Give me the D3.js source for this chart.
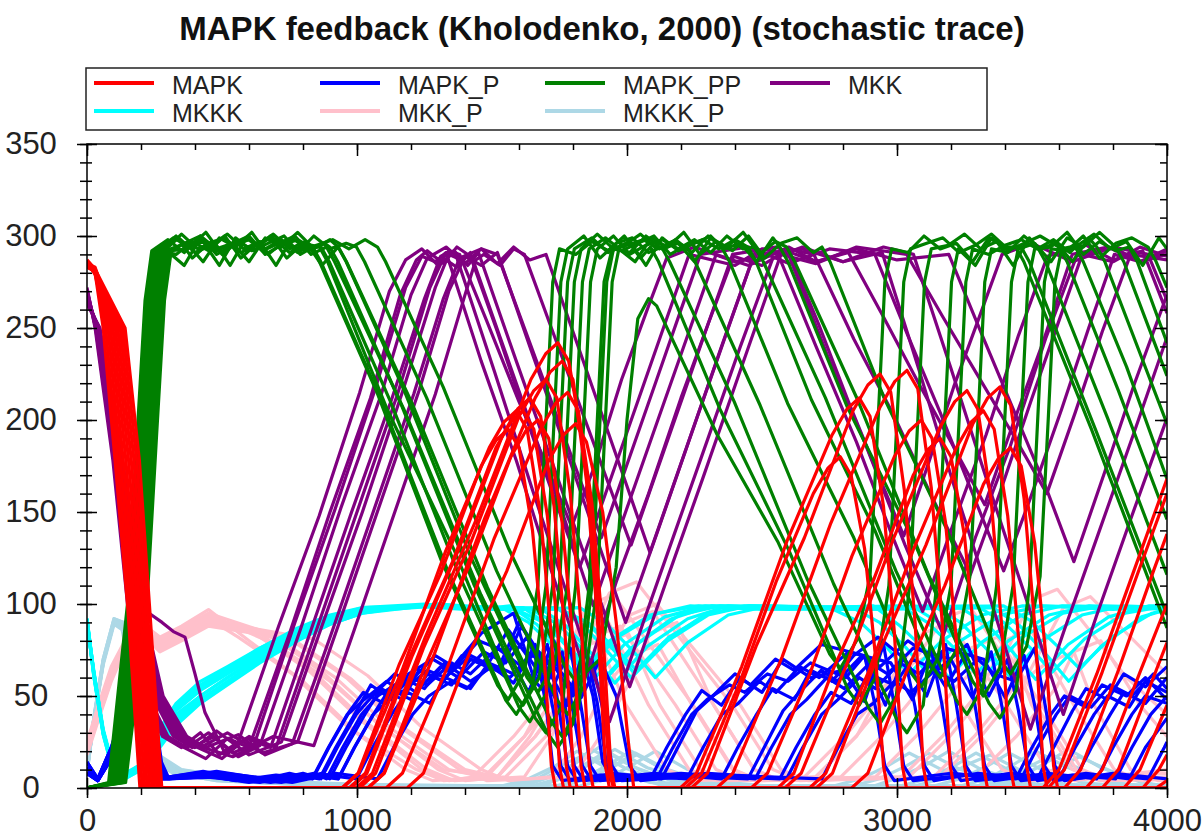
<!DOCTYPE html>
<html>
<head>
<meta charset="utf-8">
<script src="https://cdn.jsdelivr.net/npm/d3@7"></script>
<style>
body { margin: 0; background: #fff; }
</style>
</head>
<body>
<div id="chart"></div>
<script>
// values, one array per run: [time, molecules]
var mapkRuns = [
  [[0,285],[30,280],[60,250],[104,178],[150,100],[196,0],[944,0],[1004,8],[1156,67],[1308,116],[1460,175],[1515,189],[1560,195],[1600,185],[1650,140],[1690,78],[1720,12],[1735,0],[2197,0],[2257,8],[2425,66],[2592,134],[2760,192],[2815,206],[2860,212],[2900,202],[2950,153],[2990,85],[3020,12],[3035,0],[3540,0],[3600,10],[3740,62],[3870,115],[4000,168]],
  [[0,284],[30,281],[69,250],[114,178],[159,100],[205,0],[946,0],[1006,8],[1167,64],[1329,129],[1490,185],[1545,199],[1590,205],[1630,195],[1680,148],[1720,82],[1750,12],[1765,0],[2238,0],[2298,8],[2478,77],[2657,136],[2837,205],[2892,219],[2937,225],[2977,215],[3027,162],[3067,90],[3097,12],[3112,0],[3620,0],[3680,10],[3820,64],[3950,118],[4000,138]],
  [[0,286],[30,279],[78,250],[124,178],[168,100],[214,0],[971,0],[1031,8],[1192,70],[1354,123],[1515,185],[1570,199],[1615,205],[1655,195],[1705,148],[1745,82],[1775,12],[1790,0],[2332,0],[2392,8],[2574,71],[2755,144],[2937,207],[2992,221],[3037,227],[3077,217],[3127,163],[3167,91],[3197,12],[3212,0],[3700,0],[3760,10],[3900,63],[4000,100]],
  [[0,283],[30,281],[87,250],[134,178],[177,100],[223,0],[977,0],[1037,8],[1205,72],[1372,128],[1540,192],[1595,206],[1640,212],[1680,202],[1730,153],[1770,85],[1800,12],[1815,0],[2460,0],[2520,8],[2677,62],[2833,126],[2990,180],[3045,194],[3090,200],[3130,190],[3180,144],[3220,80],[3250,12],[3265,0],[3760,0],[3820,10],[3960,64],[4000,79]],
  [[0,287],[30,282],[96,250],[144,178],[186,100],[232,0],[1040,0],[1100,8],[1257,68],[1413,120],[1570,180],[1625,194],[1670,200],[1710,190],[1760,144],[1800,80],[1830,12],[1845,0],[2558,0],[2618,8],[2765,65],[2913,113],[3060,170],[3115,184],[3160,190],[3200,180],[3250,137],[3290,76],[3320,12],[3335,0],[3840,0],[3900,10],[4000,45]],
  [[0,285],[30,283],[105,250],[154,178],[195,100],[241,0],[1009,0],[1069,8],[1246,76],[1423,134],[1600,202],[1655,216],[1700,222],[1740,212],[1790,160],[1830,89],[1860,12],[1875,0],[2585,0],[2645,8],[2816,68],[2988,136],[3159,196],[3214,210],[3259,216],[3299,206],[3349,156],[3389,86],[3419,12],[3434,0],[3910,0],[3970,10],[4000,18]],
  [[0,284],[30,280],[114,250],[164,178],[204,100],[250,0],[997,0],[1057,8],[1253,82],[1448,148],[1644,222],[1699,236],[1744,242],[1784,232],[1834,190],[1874,140],[1910,60],[1935,8],[1950,0],[2676,0],[2736,8],[2897,64],[3059,129],[3220,185],[3275,199],[3320,205],[3360,195],[3410,148],[3450,82],[3480,12],[3495,0],[3960,0],[4000,4]],
  [[0,286],[30,282],[123,250],[174,178],[213,100],[259,0],[1041,0],[1101,8],[1287,73],[1474,147],[1660,212],[1715,226],[1760,232],[1800,222],[1850,167],[1890,93],[1920,12],[1935,0],[2701,0],[2761,8],[2934,74],[3107,132],[3281,198],[3336,212],[3381,218],[3421,208],[3471,157],[3511,87],[3541,12],[3556,0],[4000,0]],
  [[0,283],[30,281],[132,250],[184,178],[222,100],[268,0],[1108,0],[1168,8],[1339,67],[1509,136],[1680,195],[1735,209],[1780,215],[1820,205],[1870,155],[1910,86],[1940,12],[1955,0],[2832,0],[2892,8],[3035,63],[3177,110],[3320,165],[3375,179],[3420,185],[3460,175],[3510,133],[3550,74],[3580,12],[3595,0],[4000,0]],
  [[0,285],[30,282],[141,250],[194,178],[231,100],[277,0],[1186,0],[1246,8],[1401,68],[1555,118],[1710,178],[1765,192],[1810,198],[1850,188],[1910,150],[1960,90],[2005,25],[2025,0],[2216,0],[2276,8],[2414,56],[2552,112],[2690,160],[2745,174],[2790,180],[2830,170],[2880,130],[2920,72],[2950,12],[2965,0],[3560,0],[3620,10],[3760,63],[3890,116],[4000,160]]
];

var mapkPRuns = [
  [[0,8],[40,4],[90,16],[130,45],[165,70],[195,50],[222,14],[250,5],[400,8],[550,4],[700,7],[834,5],[894,22],[964,40],[1024,52],[1100,46],[1164,60],[1250,54],[1324,68],[1420,58],[1500,66],[1580,57],[1660,78],[1700,45],[1725,12],[1760,4],[1900,7],[2087,5],[2147,22],[2217,40],[2277,53],[2350,45],[2417,60],[2500,52],[2577,70],[2680,60],[2800,64],[2880,47],[2950,78],[2990,45],[3025,12],[3060,4],[3250,7],[3440,5],[3500,22],[3570,40],[3620,50],[3700,44],[3760,56],[3850,50],[3920,60],[4000,48]],
  [[0,11],[40,4],[90,19],[133,45],[169,75],[200,50],[228,14],[256,5],[420,7],[600,3],[750,8],[836,5],[896,22],[966,40],[1026,48],[1110,58],[1166,52],[1260,64],[1326,60],[1420,72],[1530,64],[1610,88],[1690,70],[1730,40],[1755,12],[1790,4],[1950,8],[2128,5],[2188,22],[2258,42],[2318,50],[2400,62],[2458,56],[2550,70],[2618,64],[2720,78],[2877,72],[2957,45],[3027,72],[3067,44],[3102,12],[3137,4],[3300,8],[3520,5],[3580,22],[3650,42],[3700,54],[3780,48],[3840,62],[3920,55],[4000,66]],
  [[0,14],[40,5],[90,22],[136,45],[173,80],[205,50],[234,14],[262,5],[430,9],[620,4],[780,7],[861,5],[921,22],[991,40],[1051,56],[1130,48],[1191,62],[1280,70],[1351,64],[1450,80],[1555,74],[1635,52],[1705,78],[1745,46],[1780,12],[1815,4],[2000,7],[2222,5],[2282,22],[2352,40],[2412,46],[2490,58],[2552,52],[2640,66],[2712,60],[2820,74],[2977,68],[3057,48],[3127,75],[3167,45],[3202,12],[3237,4],[3420,8],[3600,5],[3660,22],[3730,40],[3780,50],[3860,44],[3920,58],[4000,52]],
  [[0,8],[40,4],[90,16],[139,45],[177,85],[210,50],[240,14],[268,5],[440,6],[640,3],[800,8],[867,5],[927,22],[997,40],[1057,50],[1140,62],[1197,58],[1290,72],[1357,66],[1460,84],[1580,95],[1660,57],[1730,80],[1770,45],[1805,12],[1840,4],[2100,8],[2350,5],[2410,22],[2480,40],[2540,54],[2620,48],[2680,64],[2760,58],[2840,72],[2930,82],[3030,70],[3110,50],[3180,78],[3220,45],[3255,12],[3290,4],[3500,7],[3660,5],[3720,22],[3790,40],[3840,52],[3920,46],[4000,60]],
  [[0,11],[40,4],[90,19],[142,45],[181,70],[215,50],[246,14],[274,5],[460,8],[660,4],[820,7],[930,5],[990,22],[1060,40],[1120,48],[1200,60],[1260,56],[1350,68],[1420,62],[1520,76],[1610,66],[1690,53],[1760,74],[1800,42],[1835,12],[1870,4],[2150,7],[2448,5],[2508,22],[2578,42],[2638,52],[2720,64],[2778,58],[2870,72],[2938,66],[3040,80],[3100,74],[3180,55],[3250,72],[3290,44],[3325,12],[3360,4],[3560,8],[3740,5],[3800,22],[3870,40],[3920,50],[4000,46]],
  [[0,14],[40,5],[90,22],[145,45],[185,75],[220,50],[252,14],[280,5],[470,7],[680,3],[840,8],[899,5],[959,22],[1029,40],[1089,54],[1170,48],[1229,64],[1320,58],[1389,72],[1480,66],[1560,86],[1640,70],[1720,53],[1790,76],[1830,44],[1865,12],[1900,4],[2200,8],[2475,5],[2535,22],[2605,40],[2665,48],[2740,60],[2805,54],[2900,68],[2965,62],[3060,76],[3199,70],[3279,49],[3349,74],[3389,44],[3424,12],[3459,4],[3650,7],[3810,5],[3870,22],[3940,40],[4000,50]],
  [[0,8],[40,4],[90,16],[148,45],[189,80],[225,50],[258,14],[286,5],[480,9],[700,4],[850,7],[887,5],[947,22],[1017,40],[1077,50],[1160,58],[1217,52],[1310,66],[1377,60],[1470,74],[1550,68],[1630,82],[1684,62],[1764,41],[1834,72],[1874,50],[1910,14],[1950,4],[2250,7],[2566,5],[2626,22],[2696,40],[2756,52],[2830,46],[2896,62],[2990,56],[3056,70],[3150,64],[3260,78],[3340,50],[3410,70],[3450,42],[3485,12],[3520,4],[3700,8],[3860,5],[3920,22],[4000,38]],
  [[0,11],[40,4],[90,19],[151,45],[193,85],[230,50],[264,14],[292,5],[500,6],[720,3],[870,8],[931,5],[991,22],[1061,40],[1121,54],[1200,48],[1261,62],[1350,56],[1421,70],[1520,64],[1600,90],[1700,66],[1780,45],[1850,74],[1890,46],[1925,12],[1960,4],[2300,8],[2591,5],[2651,22],[2721,40],[2781,48],[2860,60],[2921,54],[3010,68],[3081,62],[3180,76],[3321,70],[3401,49],[3471,72],[3511,44],[3546,12],[3581,4],[3780,7],[3930,5],[3990,22],[4000,25]],
  [[0,14],[40,5],[90,22],[154,45],[197,70],[235,50],[270,14],[298,5],[510,8],[740,4],[890,7],[998,5],[1058,22],[1128,40],[1188,52],[1270,46],[1328,60],[1420,54],[1488,68],[1580,62],[1660,76],[1740,64],[1800,50],[1870,70],[1910,43],[1945,12],[1980,4],[2350,7],[2722,5],[2782,22],[2852,40],[2912,46],[2990,58],[3052,52],[3140,64],[3212,58],[3300,70],[3360,62],[3440,58],[3510,76],[3550,44],[3585,12],[3620,4],[3800,8],[4000,5]],
  [[0,8],[40,4],[90,16],[157,45],[201,75],[240,50],[276,14],[304,5],[520,7],[760,3],[920,8],[1076,5],[1136,22],[1206,40],[1266,50],[1350,58],[1406,54],[1490,66],[1566,60],[1650,72],[1750,64],[1830,49],[1900,70],[1960,50],[2010,12],[2050,4],[2110,5],[2170,22],[2240,40],[2296,48],[2380,56],[2436,52],[2520,62],[2596,58],[2680,68],[2810,60],[2880,72],[2920,44],[2955,12],[2990,4],[3200,8],[3460,5],[3520,22],[3590,40],[3640,50],[3720,44],[3790,56],[3870,50],[3950,62],[4000,54]]
];

var mapkPPRuns = [
  [[0,0],[80,3],[150,100],[185,190],[215,265],[240,292],[300,298],[360,291],[420,300],[480,293],[540,296],[600,286],[660,299],[720,294],[780,302],[834,294],[864,285],[1074,215],[1314,123],[1520,56],[1560,48],[1620,63],[1670,110],[1700,200],[1725,275],[1750,293],[1810,290],[1870,297],[1930,292],[1990,300],[2050,288],[2087,294],[2117,286],[2344,206],[2600,129],[2820,53],[2860,45],[2920,60],[2970,110],[3000,200],[3025,275],[3050,293],[3110,296],[3170,299],[3230,291],[3290,295],[3350,301],[3410,293],[3440,294],[3470,286],[3720,195],[4000,87]],
  [[0,0],[87,3],[158,100],[193,190],[223,265],[248,292],[310,293],[370,296],[430,286],[490,299],[550,294],[610,302],[670,290],[730,297],[790,292],[836,294],[866,286],[1086,212],[1336,118],[1550,48],[1590,40],[1650,55],[1700,110],[1730,200],[1755,275],[1780,293],[1840,300],[1900,288],[1960,296],[2020,299],[2080,291],[2128,294],[2158,286],[2397,210],[2666,114],[2897,43],[2937,35],[2997,50],[3047,110],[3077,200],[3102,275],[3127,293],[3190,295],[3250,301],[3310,293],[3370,297],[3430,284],[3490,299],[3520,294],[3550,286],[3780,201],[4000,116]],
  [[0,0],[94,3],[166,100],[201,190],[231,265],[256,292],[320,299],[380,294],[440,302],[500,290],[560,297],[620,292],[680,300],[740,288],[800,296],[861,294],[891,286],[1111,206],[1361,129],[1575,53],[1615,45],[1675,60],[1725,110],[1755,200],[1780,275],[1805,293],[1870,299],[1930,291],[1990,295],[2050,301],[2110,293],[2170,297],[2222,294],[2252,286],[2493,208],[2765,111],[2997,38],[3037,30],[3097,45],[3147,110],[3177,200],[3202,275],[3227,293],[3290,284],[3350,299],[3410,292],[3470,296],[3530,300],[3600,294],[3630,286],[3820,216],[4000,146]],
  [[0,0],[101,3],[174,100],[209,190],[239,265],[264,292],[330,290],[390,297],[450,292],[510,300],[570,288],[630,296],[690,299],[750,291],[810,295],[867,294],[897,286],[1124,210],[1380,115],[1600,44],[1640,36],[1700,51],[1750,110],[1780,200],[1805,275],[1830,293],[1890,301],[1950,293],[2010,297],[2070,284],[2130,299],[2190,292],[2250,296],[2310,300],[2350,294],[2380,286],[2595,209],[2840,136],[3050,63],[3090,55],[3150,70],[3200,110],[3230,200],[3255,275],[3280,293],[3340,290],[3400,295],[3460,298],[3520,293],[3580,298],[3640,291],[3660,294],[3690,286],[3850,229],[4000,168]],
  [[0,0],[108,3],[182,100],[217,190],[247,265],[272,292],[330,300],[390,288],[450,296],[510,299],[570,291],[630,295],[690,301],[750,293],[810,297],[870,284],[930,294],[960,286],[1175,216],[1420,126],[1630,60],[1670,52],[1730,67],[1780,110],[1810,200],[1835,275],[1860,293],[1920,299],[1980,292],[2040,296],[2100,300],[2160,290],[2220,295],[2280,298],[2340,293],[2400,298],[2448,294],[2478,286],[2683,211],[2918,140],[3120,68],[3160,60],[3220,75],[3270,115],[3300,200],[3325,275],[3350,293],[3410,291],[3470,300],[3530,293],[3590,296],[3650,286],[3710,299],[3740,294],[3770,286],[4000,198]],
  [[0,0],[115,3],[190,100],[225,190],[255,265],[280,292],[340,299],[400,291],[460,295],[520,301],[580,293],[640,297],[700,284],[760,299],[820,292],[880,296],[899,294],[929,286],[1165,208],[1432,111],[1660,38],[1700,30],[1760,45],[1810,110],[1840,200],[1865,275],[1890,293],[1950,300],[2010,290],[2070,295],[2130,298],[2190,293],[2250,298],[2310,291],[2370,300],[2430,293],[2475,294],[2505,286],[2735,212],[2996,118],[3219,48],[3259,40],[3319,55],[3369,110],[3399,200],[3424,275],[3449,293],[3510,296],[3570,286],[3630,299],[3690,294],[3750,302],[3810,294],[3840,286],[4000,224]],
  [[0,0],[122,3],[198,100],[233,190],[263,265],[288,292],[350,301],[410,293],[470,297],[530,284],[590,299],[650,292],[710,296],[770,300],[830,290],[887,294],[917,286],[1173,206],[1459,105],[1704,30],[1744,22],[1800,35],[1860,110],[1890,200],[1915,275],[1945,293],[2000,295],[2060,298],[2120,293],[2180,298],[2240,291],[2300,300],[2360,293],[2420,296],[2480,286],[2540,299],[2566,294],[2596,286],[2816,207],[3066,133],[3280,58],[3320,50],[3380,65],[3430,110],[3460,200],[3485,275],[3510,293],[3570,294],[3630,302],[3690,290],[3750,297],[3810,292],[3860,294],[3890,286],[4000,242]],
  [[0,0],[129,3],[206,100],[241,190],[271,265],[296,292],[360,284],[420,299],[480,292],[540,296],[600,300],[660,290],[720,295],[780,298],[840,293],[900,298],[931,294],[961,286],[1207,208],[1483,109],[1720,36],[1760,28],[1820,43],[1870,110],[1900,200],[1925,275],[1950,293],[2010,291],[2070,300],[2130,293],[2190,296],[2250,286],[2310,299],[2370,294],[2430,302],[2490,290],[2550,297],[2591,294],[2621,286],[2854,211],[3116,116],[3341,46],[3381,38],[3441,53],[3491,110],[3521,200],[3546,275],[3571,293],[3630,292],[3690,300],[3750,288],[3810,296],[3870,299],[3930,294],[3960,286],[4000,272]],
  [[0,0],[136,3],[214,100],[249,190],[279,265],[304,292],[360,296],[420,300],[480,290],[540,295],[600,298],[660,293],[720,298],[780,291],[840,300],[900,293],[960,296],[998,294],[1028,286],[1258,212],[1517,118],[1740,48],[1780,40],[1840,55],[1890,110],[1920,200],[1945,275],[1970,293],[2030,286],[2090,299],[2150,294],[2210,302],[2270,290],[2330,297],[2390,292],[2450,300],[2510,288],[2570,296],[2630,299],[2690,291],[2722,294],[2752,286],[2952,212],[3183,141],[3380,70],[3420,62],[3480,77],[3530,115],[3560,200],[3585,275],[3610,293],[3670,295],[3730,301],[3790,293],[3850,297],[3910,284],[3970,299],[4000,293]],
  [[0,0],[143,3],[222,100],[257,190],[287,265],[312,292],[370,293],[430,297],[490,284],[550,299],[610,292],[670,296],[730,300],[790,290],[850,295],[910,298],[970,293],[1030,298],[1076,294],[1106,286],[1319,218],[1562,130],[1770,66],[1810,58],[1900,70],[1960,120],[2000,200],[2040,255],[2080,266],[2110,262],[2334,192],[2558,134],[2750,73],[2790,65],[2850,80],[2900,115],[2930,200],[2955,275],[2980,293],[3040,291],[3100,300],[3160,293],[3220,296],[3280,286],[3340,299],[3400,294],[3460,294],[3490,286],[3740,193],[4000,94]]
];

var mkkRuns = [
  [[0,272],[30,250],[96,178],[150,100],[210,50],[280,28],[350,22],[420,30],[490,18],[560,25],[710,88],[860,148],[1010,215],[1120,270],[1180,287],[1240,293],[1300,284],[1340,292],[1380,290],[1480,254],[1600,210],[1700,176],[1795,142],[1880,175],[1980,222],[2080,262],[2147,288],[2250,294],[2400,286],[2557,291],[2700,240],[2850,188],[2980,138],[3095,96],[3200,140],[3330,192],[3450,246],[3557,289],[3700,295],[3800,287],[3910,292],[4000,258]],
  [[0,271],[32,250],[100,178],[156,100],[218,50],[290,28],[360,22],[440,16],[520,27],[600,22],[750,84],[900,150],[1050,212],[1160,268],[1220,287],[1260,292],[1320,285],[1370,294],[1420,289],[1520,248],[1620,204],[1720,162],[1825,120],[1930,164],[2030,206],[2130,248],[2230,290],[2400,284],[2500,293],[2598,290],[2740,236],[2880,188],[3030,132],[3172,83],[3290,136],[3420,186],[3550,244],[3665,289],[3800,294],[3900,286],[4000,290]],
  [[0,270],[34,250],[104,178],[162,100],[226,50],[300,28],[370,22],[450,30],[540,19],[620,24],[770,90],[920,152],[1070,218],[1180,272],[1240,289],[1290,286],[1330,291],[1460,232],[1590,178],[1720,118],[1850,61],[1960,112],[2080,160],[2200,212],[2300,252],[2395,289],[2500,284],[2600,293],[2692,290],[2840,244],[2990,202],[3130,158],[3272,116],[3380,160],[3500,212],[3600,254],[3686,290],[3800,286],[3900,294],[4000,289]],
  [[0,270],[40,245],[110,178],[170,120],[230,95],[278,90],[320,85],[363,82],[400,62],[437,41],[511,19],[600,28],[700,22],[850,86],[1000,150],[1150,214],[1270,272],[1320,288],[1370,283],[1420,291],[1530,245],[1640,199],[1760,150],[1875,99],[1990,148],[2100,194],[2220,244],[2330,290],[2450,284],[2600,294],[2700,286],[2820,291],[2950,256],[3080,220],[3200,188],[3325,154],[3430,198],[3540,242],[3649,290],[3780,294],[3900,286],[4000,292]],
  [[0,268],[38,250],[112,178],[174,100],[242,50],[320,28],[390,22],[470,28],[560,17],[640,23],[790,86],[940,152],[1090,214],[1200,268],[1260,288],[1330,294],[1400,285],[1460,293],[1520,290],[1620,250],[1720,210],[1810,174],[1905,136],[2010,180],[2110,222],[2200,260],[2272,290],[2450,294],[2600,285],[2750,293],[2918,290],[3040,246],[3160,204],[3280,160],[3395,118],[3500,160],[3610,206],[3710,250],[3805,290],[3900,286],[4000,293]],
  [[0,267],[40,250],[116,178],[180,100],[250,50],[330,28],[400,22],[480,31],[600,18],[720,25],[870,88],[1020,150],[1170,216],[1290,272],[1340,290],[1370,288],[1510,226],[1650,162],[1790,100],[1935,36],[2060,90],[2180,140],[2300,190],[2420,240],[2540,288],[2650,294],[2800,286],[2945,291],[3080,228],[3220,160],[3360,96],[3494,32],[3620,86],[3750,140],[3880,194],[4000,245]],
  [[0,266],[42,250],[120,178],[186,100],[258,50],[340,28],[410,22],[500,16],[590,27],[680,22],[830,86],[980,150],[1130,212],[1250,266],[1310,289],[1360,292],[1410,284],[1450,291],[1590,232],[1730,174],[1870,115],[2010,55],[2140,110],[2280,168],[2420,227],[2570,290],[2700,285],[2850,294],[3036,290],[3170,256],[3300,224],[3430,192],[3555,160],[3660,204],[3760,248],[3865,290],[4000,287]],
  [[0,265],[44,250],[124,178],[192,100],[266,50],[350,28],[420,22],[520,30],[650,19],[780,25],[930,88],[1080,152],[1230,216],[1340,270],[1400,289],[1460,284],[1520,291],[1640,240],[1760,190],[1880,139],[1995,90],[2110,138],[2230,189],[2350,240],[2471,290],[2650,293],[2800,286],[2950,294],[3061,290],[3200,228],[3340,164],[3480,102],[3616,40],[3740,94],[3870,148],[4000,201]],
  [[0,264],[46,250],[128,178],[198,100],[274,50],[360,28],[430,22],[540,17],[690,28],[840,23],[990,86],[1140,150],[1290,214],[1400,268],[1440,287],[1470,290],[1530,284],[1580,293],[1620,290],[1720,250],[1820,210],[1920,170],[2015,132],[2110,172],[2210,214],[2300,252],[2391,290],[2550,294],[2700,286],[2850,293],[3000,287],[3192,290],[3310,248],[3430,206],[3550,164],[3655,123],[3770,172],[3880,220],[4000,268]],
  [[0,263],[48,250],[132,178],[204,100],[282,50],[370,28],[440,22],[560,29],[660,18],[760,24],[910,86],[1060,150],[1210,214],[1320,266],[1380,288],[1460,293],[1520,285],[1580,294],[1640,287],[1700,290],[1800,248],[1900,206],[2000,164],[2085,128],[2180,168],[2280,210],[2380,252],[2471,290],[2600,291],[2710,252],[2820,210],[2920,174],[3025,137],[3120,178],[3210,218],[3300,254],[3389,290],[3500,296],[3650,286],[3800,294],[3930,290],[4000,265]]
];

var mkkkRuns = [
  [[0,91],[25,62],[60,30],[100,8],[140,6],[190,10],[250,22],[330,40],[420,50],[520,60],[640,72],[780,84],[900,92],[1020,97],[1200,99],[1400,97],[1535,98],[1635,90],[1735,76],[1815,60],[1935,80],[2085,94],[2235,99],[2500,97],[2835,98],[2935,90],[3035,76],[3115,62],[3235,80],[3385,94],[3535,99],[3800,97],[4000,99]],
  [[0,90],[25,63],[60,31],[100,9],[140,7],[190,11],[250,26],[330,44],[420,55],[520,64],[640,75],[780,86],[900,93],[1020,98],[1250,100],[1450,97],[1565,99],[1665,89],[1765,74],[1845,64],[1965,82],[2115,95],[2265,99],[2600,97],[2912,99],[3012,88],[3112,74],[3192,60],[3312,79],[3462,94],[3612,99],[4000,98]],
  [[0,92],[25,61],[60,29],[100,7],[140,5],[190,9],[250,18],[330,34],[420,46],[520,56],[640,68],[780,80],[900,89],[1020,95],[1200,99],[1450,98],[1590,97],[1690,90],[1790,75],[1870,58],[1990,78],[2140,93],[2290,99],[2700,98],[3012,99],[3112,90],[3212,76],[3292,62],[3412,80],[3562,94],[3712,99],[4000,97]],
  [[0,91],[25,63],[60,31],[100,9],[140,7],[190,12],[250,28],[330,46],[420,58],[520,66],[640,76],[780,87],[900,94],[1020,98],[1300,99],[1500,97],[1615,98],[1715,88],[1815,72],[1895,56],[2015,76],[2165,92],[2315,99],[2700,97],[3065,98],[3165,89],[3265,74],[3345,64],[3465,82],[3615,95],[3765,99],[4000,98]],
  [[0,90],[25,62],[60,30],[100,8],[140,6],[190,10],[250,20],[330,37],[420,48],[520,58],[640,70],[780,82],[900,90],[1020,96],[1250,99],[1500,98],[1645,97],[1745,89],[1845,74],[1925,60],[2045,79],[2195,94],[2345,99],[2800,98],[3135,99],[3235,90],[3335,75],[3415,61],[3535,80],[3685,94],[3835,99],[4000,98]],
  [[0,92],[25,63],[60,31],[100,9],[140,7],[190,11],[250,24],[330,42],[420,53],[520,62],[640,73],[780,85],[900,92],[1020,97],[1300,100],[1500,97],[1675,98],[1775,88],[1875,72],[1955,57],[2075,77],[2225,92],[2375,99],[2800,97],[3234,98],[3334,89],[3434,73],[3514,59],[3634,78],[3784,93],[3934,99],[4000,99]],
  [[0,91],[25,61],[60,29],[100,7],[140,5],[190,9],[250,19],[330,36],[420,47],[520,57],[640,69],[780,81],[900,89],[1020,95],[1250,99],[1550,98],[1750,97],[1850,90],[1950,75],[2030,62],[2150,80],[2300,94],[2450,99],[2900,98],[3295,99],[3395,90],[3495,76],[3575,63],[3695,81],[3845,95],[4000,99]],
  [[0,90],[25,64],[60,32],[100,10],[140,8],[190,12],[250,27],[330,45],[420,56],[520,65],[640,76],[780,86],[900,93],[1020,97],[1300,99],[1550,97],[1735,98],[1835,89],[1935,73],[2015,60],[2135,79],[2285,94],[2435,99],[2900,97],[3356,98],[3456,88],[3556,72],[3636,58],[3756,77],[3906,93],[4000,97]],
  [[0,91],[25,62],[60,30],[100,8],[140,6],[190,10],[250,21],[330,38],[420,50],[520,60],[640,71],[780,83],[900,91],[1020,96],[1300,99],[1600,98],[1755,97],[1855,90],[1955,76],[2035,64],[2155,82],[2305,95],[2455,99],[2950,98],[3395,99],[3495,91],[3595,77],[3675,65],[3795,82],[3945,95],[4000,97]],
  [[0,92],[25,63],[60,31],[100,9],[140,7],[190,11],[250,25],[330,43],[420,54],[520,63],[640,74],[780,85],[900,92],[1020,97],[1300,100],[1600,97],[1825,98],[1925,89],[2025,74],[2105,60],[2225,79],[2375,94],[2525,99],[2700,98],[2765,97],[2865,90],[2965,76],[3045,62],[3165,80],[3315,94],[3465,99],[4000,98]]
];

var mkkPRuns = [
  [[0,22],[40,40],[90,62],[140,78],[200,86],[270,78],[350,84],[450,92],[560,82],[760,62],[960,34],[1180,10],[1280,4],[1480,6],[1620,28],[1720,55],[1795,74],[1895,80],[1997,45],[2147,10],[2247,4],[2657,6],[2807,28],[2957,55],[3095,84],[3195,90],[3407,45],[3557,10],[3657,4],[4000,10]],
  [[0,18],[40,36],[90,58],[140,75],[200,90],[270,82],[350,88],[450,97],[600,80],[800,58],[1000,30],[1220,10],[1320,4],[1520,6],[1640,28],[1750,55],[1825,86],[1925,92],[2080,45],[2230,10],[2330,4],[2698,6],[2848,28],[2998,55],[3172,92],[3272,98],[3515,45],[3665,10],[3765,4],[4000,5]],
  [[0,25],[40,44],[90,66],[140,80],[200,84],[270,74],[350,80],[450,88],[620,84],[820,64],[1020,36],[1240,10],[1340,4],[1430,6],[1580,28],[1730,55],[1850,99],[1950,105],[2245,45],[2395,10],[2495,4],[2792,6],[2942,28],[3092,55],[3272,76],[3372,82],[3536,45],[3686,10],[3786,4],[4000,6]],
  [[0,20],[40,38],[90,60],[140,76],[200,88],[270,80],[350,86],[450,94],[700,78],[900,58],[1100,32],[1320,10],[1520,6],[1660,28],[1790,55],[1875,82],[1975,88],[2180,45],[2330,10],[2430,4],[2920,6],[3070,28],[3220,55],[3325,70],[3425,76],[3499,45],[3649,10],[3749,4],[4000,5]],
  [[0,23],[40,42],[90,63],[140,79],[200,85],[270,76],[350,82],[450,90],[640,84],[840,63],[1040,35],[1260,10],[1360,4],[1620,6],[1720,28],[1820,55],[1905,78],[2005,84],[2122,45],[2272,10],[2372,4],[3018,6],[3168,28],[3318,55],[3395,80],[3495,86],[3655,45],[3805,10],[3905,4],[4000,5]],
  [[0,21],[40,39],[90,61],[140,77],[200,87],[270,79],[350,85],[450,93],[720,80],[920,60],[1120,33],[1340,10],[1470,6],[1620,28],[1770,55],[1935,106],[2035,112],[2390,45],[2540,10],[2640,4],[3045,6],[3195,28],[3345,55],[3494,102],[3594,108],[3850,60],[4000,40]],
  [[0,24],[40,43],[90,64],[140,79],[200,84],[270,75],[350,81],[450,89],[680,83],[880,62],[1080,35],[1300,10],[1400,4],[1550,6],[1700,28],[1850,55],[2010,94],[2110,100],[2420,45],[2570,10],[2670,4],[3136,6],[3286,28],[3436,55],[3555,68],[3655,74],[3730,45],[3865,10],[3965,4],[4000,4]],
  [[0,19],[40,37],[90,59],[140,76],[200,89],[270,81],[350,87],[450,95],[780,79],[980,59],[1180,32],[1400,10],[1520,6],[1660,28],[1800,55],[1995,90],[2095,96],[2321,45],[2471,10],[2571,4],[3161,6],[3311,28],[3461,55],[3616,98],[3716,104],[4000,62]],
  [[0,22],[40,41],[90,62],[140,78],[200,86],[270,77],[350,83],[450,91],[840,81],[1040,61],[1240,33],[1460,10],[1560,4],[1720,6],[1830,28],[1920,55],[2015,72],[2115,78],[2241,45],[2391,10],[2491,4],[3292,6],[3442,28],[3592,55],[3655,74],[3755,80],[3900,45],[4000,28]],
  [[0,20],[40,39],[90,61],[140,77],[200,87],[270,79],[350,85],[450,93],[760,80],[960,60],[1160,33],[1380,10],[1480,4],[1800,6],[1900,28],[2000,55],[2085,84],[2185,90],[2321,45],[2471,10],[2571,4],[2700,6],[2850,28],[2950,55],[3025,66],[3125,72],[3239,45],[3389,10],[3489,4],[4000,8]]
];

var mkkkPRuns = [
  [[0,9],[25,37],[60,69],[100,91],[140,88],[180,58],[220,30],[260,16],[330,9],[500,5],[800,2],[1020,1],[1535,1],[1635,5],[1735,12],[1815,20],[1935,10],[2085,3],[2235,1],[2835,1],[2935,5],[3035,12],[3115,19],[3235,10],[3385,3],[3535,1],[4000,1]],
  [[0,10],[25,36],[60,68],[100,90],[145,86],[185,55],[225,28],[265,15],[340,8],[520,4],[820,2],[1020,1],[1565,1],[1665,5],[1765,13],[1845,18],[1965,9],[2115,2],[2265,1],[2912,1],[3012,6],[3112,13],[3192,20],[3312,10],[3462,3],[3612,1],[4000,1]],
  [[0,8],[25,38],[60,70],[100,92],[150,89],[190,60],[230,32],[270,17],[340,10],[520,6],[820,3],[1020,2],[1590,1],[1690,5],[1790,12],[1870,21],[1990,11],[2140,3],[2290,1],[3012,1],[3112,5],[3212,12],[3292,19],[3412,10],[3562,3],[3712,1],[4000,1]],
  [[0,9],[25,36],[60,68],[100,90],[135,87],[175,56],[215,29],[255,15],[320,8],[480,4],[780,2],[1020,1],[1615,1],[1715,6],[1815,14],[1895,22],[2015,12],[2165,4],[2315,1],[3065,1],[3165,5],[3265,13],[3345,18],[3465,9],[3615,2],[3765,1],[4000,1]],
  [[0,10],[25,37],[60,69],[100,91],[150,88],[190,57],[230,31],[270,16],[340,9],[510,5],[810,2],[1020,1],[1645,1],[1745,5],[1845,13],[1925,20],[2045,10],[2195,3],[2345,1],[3135,1],[3235,5],[3335,12],[3415,19],[3535,10],[3685,3],[3835,1],[4000,1]],
  [[0,8],[25,36],[60,68],[100,90],[140,86],[180,56],[220,29],[260,15],[330,8],[500,4],[800,2],[1020,1],[1675,1],[1775,6],[1875,14],[1955,21],[2075,11],[2225,4],[2375,1],[3234,1],[3334,5],[3434,13],[3514,20],[3634,11],[3784,3],[3934,1],[4000,1]],
  [[0,9],[25,38],[60,70],[100,92],[155,89],[195,59],[235,32],[275,17],[350,10],[530,6],[830,3],[1020,1],[1750,1],[1850,5],[1950,12],[2030,19],[2150,10],[2300,3],[2450,1],[3295,1],[3395,5],[3495,12],[3575,18],[3695,9],[3845,2],[4000,1]],
  [[0,10],[25,35],[60,67],[100,89],[130,86],[170,55],[210,28],[250,14],[320,8],[480,4],[780,2],[1020,1],[1735,1],[1835,5],[1935,13],[2015,20],[2135,10],[2285,3],[2435,1],[3356,1],[3456,6],[3556,14],[3636,21],[3756,11],[3906,3],[4000,1]],
  [[0,9],[25,37],[60,69],[100,91],[145,88],[185,58],[225,31],[265,16],[335,9],[505,5],[805,2],[1020,1],[1755,1],[1855,5],[1955,12],[2035,18],[2155,9],[2305,2],[2455,1],[3395,1],[3495,4],[3595,11],[3675,17],[3795,9],[3945,2],[4000,1]],
  [[0,8],[25,37],[60,69],[100,91],[140,87],[180,57],[220,30],[260,16],[330,9],[500,5],[800,2],[1020,1],[1825,1],[1925,5],[2025,13],[2105,20],[2225,10],[2375,3],[2525,1],[2765,1],[2865,5],[2965,12],[3045,19],[3165,10],[3315,3],[3465,1],[4000,1]]
];

var xMajor = [0, 1000, 2000, 3000, 4000];
var yMajor = [0, 50, 100, 150, 200, 250, 300, 350];
var legendNames = ["MAPK", "MAPK_P", "MAPK_PP", "MKK", "MKKK", "MKK_P", "MKKK_P"];
var legendColors = ["#ff0000", "#0000ff", "#008000", "#800080", "#00ffff", "#ffc0cb", "#add8e6"];

// drawing order, back to front
var layers = [
  {runs: mkkkPRuns, color: "#add8e6"},
  {runs: mkkPRuns, color: "#ffc0cb"},
  {runs: mkkkRuns, color: "#00ffff"},
  {runs: mapkPRuns, color: "#0000ff"},
  {runs: mkkRuns, color: "#800080"},
  {runs: mapkPPRuns, color: "#008000"},
  {runs: mapkRuns, color: "#ff0000"}
];

var W = 1202, H = 838;
var plotL = 87, plotR = 1167, plotT = 144, plotB = 788;
var font = "'Liberation Sans', Arial, sans-serif";

var svg = d3.select("#chart").append("svg")
    .attr("width", W)
    .attr("height", H);

var x = d3.scaleLinear().domain([0, 4000]).range([plotL, plotR]);
var y = d3.scaleLinear().domain([0, 350]).range([plotB, plotT]);

svg.append("defs").append("clipPath").attr("id", "plotclip")
  .append("rect")
    .attr("x", plotL).attr("y", plotT)
    .attr("width", plotR - plotL).attr("height", plotB - plotT);

var line = d3.line()
    .x(function(d) { return x(d[0]); })
    .y(function(d) { return y(d[1]); });

var plot = svg.append("g").attr("clip-path", "url(#plotclip)");

layers.forEach(function(layer) {
  plot.append("g").selectAll("path")
    .data(layer.runs)
    .enter()
    .append("path")
    .attr("d", line)
    .attr("fill", "none")
    .attr("stroke", layer.color)
    .attr("stroke-width", 3.2)
    .attr("stroke-linejoin", "round");
});

// frame
svg.append("rect")
    .attr("x", plotL).attr("y", plotT)
    .attr("width", plotR - plotL).attr("height", plotB - plotT)
    .attr("fill", "none")
    .attr("stroke", "#000")
    .attr("stroke-width", 1.5);

function tidy(g) {
  g.select(".domain").remove();
  g.selectAll("line").attr("stroke", "#000").attr("stroke-width", 1.5);
  g.selectAll("text")
    .attr("font-family", font)
    .attr("font-size", 31)
    .attr("fill", "#222");
}

var xMinor = d3.range(0, 4001, 200);
var yMinor = d3.range(0, 351, 10);

// bottom axis: labels + crossing major ticks, outward minor ticks
svg.append("g").attr("transform", "translate(0," + plotB + ")")
  .call(d3.axisBottom(x).tickValues(xMajor).tickSize(10).tickPadding(11).tickFormat(d3.format("d")))
  .call(tidy);
svg.append("g").attr("transform", "translate(0," + plotB + ")")
  .call(d3.axisTop(x).tickValues(xMajor).tickSize(10).tickFormat(""))
  .call(tidy);
svg.append("g").attr("transform", "translate(0," + plotB + ")")
  .call(d3.axisBottom(x).tickValues(xMinor).tickSize(7).tickFormat(""))
  .call(tidy);

// top axis: inward ticks only
svg.append("g").attr("transform", "translate(0," + plotT + ")")
  .call(d3.axisBottom(x).tickValues(xMajor).tickSize(12).tickFormat(""))
  .call(tidy);
svg.append("g").attr("transform", "translate(0," + plotT + ")")
  .call(d3.axisBottom(x).tickValues(xMinor).tickSize(6).tickFormat(""))
  .call(tidy);

// left axis: labels centred, ticks crossing the line
var yLab = svg.append("g").attr("transform", "translate(" + plotL + ",0)")
  .call(d3.axisLeft(y).tickValues(yMajor).tickSize(10).tickFormat(d3.format("d")))
  .call(tidy);
yLab.selectAll("text").attr("text-anchor", "middle").attr("x", 31 - plotL);
svg.append("g").attr("transform", "translate(" + plotL + ",0)")
  .call(d3.axisRight(y).tickValues(yMajor).tickSize(10).tickFormat(""))
  .call(tidy);
svg.append("g").attr("transform", "translate(" + plotL + ",0)")
  .call(d3.axisLeft(y).tickValues(yMinor).tickSize(7).tickFormat(""))
  .call(tidy);
svg.append("g").attr("transform", "translate(" + plotL + ",0)")
  .call(d3.axisRight(y).tickValues(yMinor).tickSize(5).tickFormat(""))
  .call(tidy);

// right axis: inward ticks only
svg.append("g").attr("transform", "translate(" + plotR + ",0)")
  .call(d3.axisLeft(y).tickValues(yMajor).tickSize(12).tickFormat(""))
  .call(tidy);
svg.append("g").attr("transform", "translate(" + plotR + ",0)")
  .call(d3.axisLeft(y).tickValues(yMinor).tickSize(7).tickFormat(""))
  .call(tidy);

// title
svg.append("text")
    .attr("x", 602)
    .attr("y", 40)
    .attr("text-anchor", "middle")
    .attr("font-family", font)
    .attr("font-weight", "bold")
    .attr("font-size", 33)
    .attr("fill", "#111")
    .text("MAPK feedback (Kholodenko, 2000) (stochastic trace)");

// legend
var legend = svg.append("g");
legend.append("rect")
    .attr("x", 86).attr("y", 68)
    .attr("width", 901).attr("height", 62)
    .attr("fill", "#fff")
    .attr("stroke", "#222")
    .attr("stroke-width", 1.5);

var colX = [94, 320, 545, 770];
var rowY = [83, 111];
legendNames.forEach(function(name, i) {
  var c = i < 4 ? i : i - 4;
  var r = i < 4 ? 0 : 1;
  legend.append("line")
      .attr("x1", colX[c]).attr("x2", colX[c] + 60)
      .attr("y1", rowY[r]).attr("y2", rowY[r])
      .attr("stroke", legendColors[i])
      .attr("stroke-width", 4);
  legend.append("text")
      .attr("x", colX[c] + 78)
      .attr("y", rowY[r] + 11)
      .attr("font-family", font)
      .attr("font-size", 25)
      .attr("fill", "#222")
      .text(name);
});
</script>
</body>
</html>
